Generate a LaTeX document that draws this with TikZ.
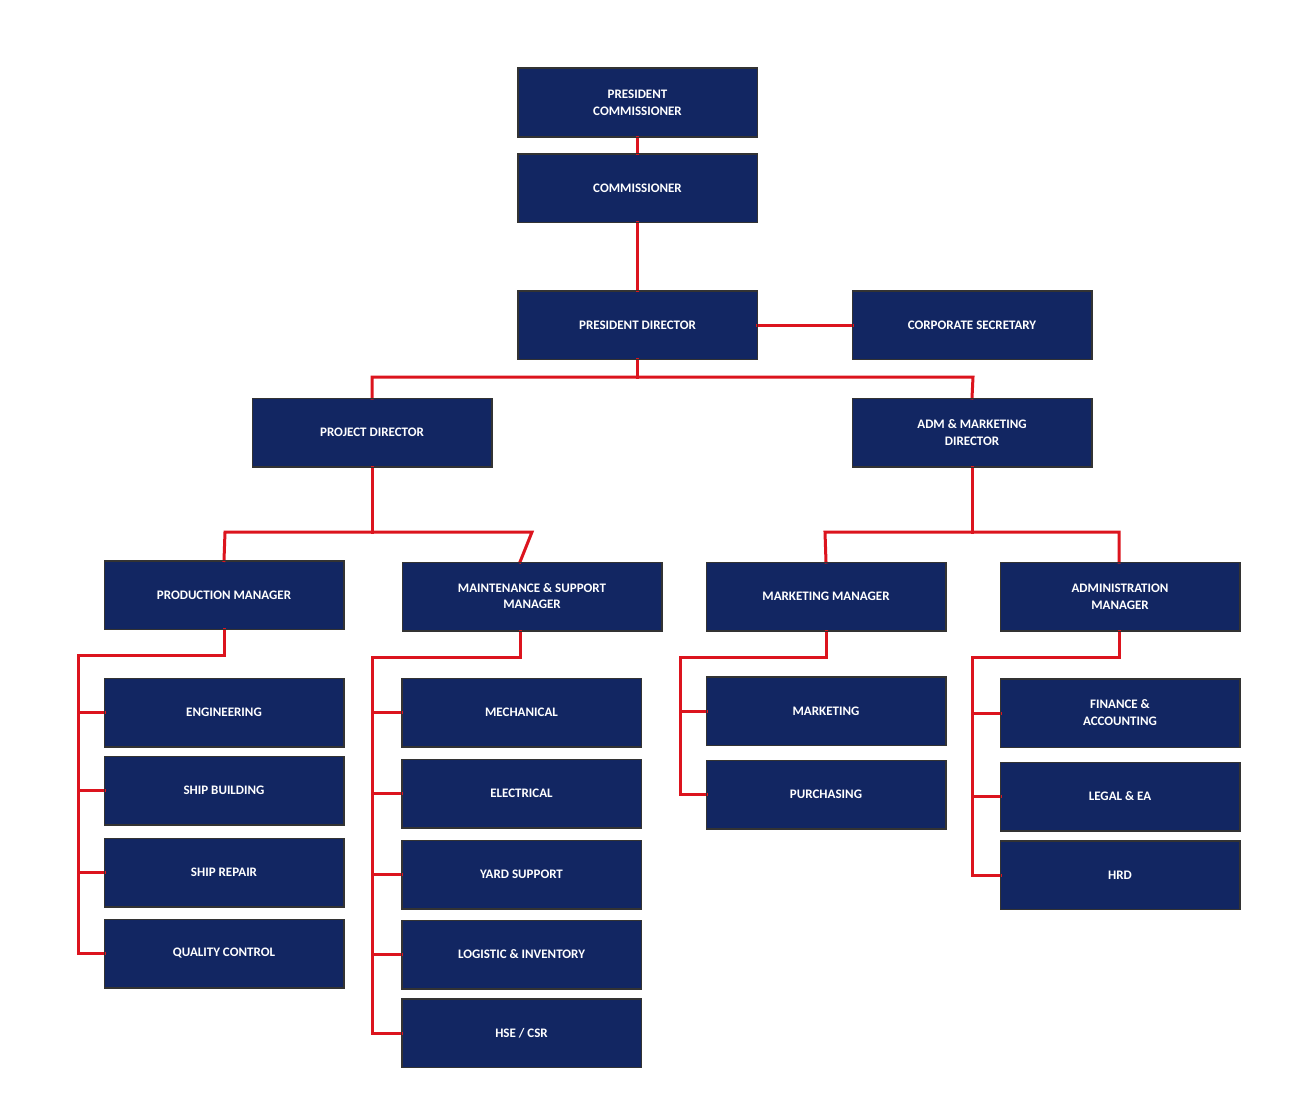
\documentclass[tikz,border=0pt]{standalone}
\usepackage{fontspec}
\setmainfont{Carlito}
\definecolor{navy}{RGB}{18,38,98}
\definecolor{lnred}{RGB}{220,20,30}
\begin{document}
\begin{tikzpicture}[x=1pt,y=-1pt,
  box/.style={draw=black!80,line width=1pt,fill=navy,text=white,font=\bfseries\fontsize{13}{17}\selectfont,align=center,minimum height=68pt,inner sep=2pt},
  w/.style={minimum width=239pt},
  ww/.style={minimum width=259pt},
  ln/.style={draw=lnred,line width=3pt,line cap=rect}]
\useasboundingbox (0,0) rectangle (1302,1116);
\fill[white] (0,0) rectangle (1302,1116);
% connectors first
\coordinate (bl) at (372,377); \coordinate (br) at (973,377);
\coordinate (pl) at (225,532); \coordinate (pr) at (520,532);
\coordinate (al) at (825,532); \coordinate (ar) at (1119,532);
\node[box,w] (pc) at (637.5,102.5) {PRESIDENT\\COMMISSIONER};
\node[box,w] (cm) at (637.5,188) {COMMISSIONER};
\node[box,w] (pd) at (637.5,325) {PRESIDENT DIRECTOR};
\node[box,w] (cs) at (972,325) {CORPORATE SECRETARY};
\node[box,w] (pj) at (372,432.5) {PROJECT DIRECTOR};
\node[box,w] (ad) at (972,432.5) {ADM \& MARKETING\\DIRECTOR};
\node[box,w] (prm) at (224,595) {PRODUCTION MANAGER};
\node[box,ww,font=\bfseries\fontsize{13}{16}\selectfont] (mm) at (532,596.5) {MAINTENANCE \& SUPPORT\\MANAGER};
\node[box,w] (mk) at (826,596.5) {MARKETING MANAGER};
\node[box,w] (am) at (1120,596.5) {ADMINISTRATION\\MANAGER};
\node[box,w] (e1) at (224,712.5) {ENGINEERING};
\node[box,w] (e2) at (224,790.5) {SHIP BUILDING};
\node[box,w] (e3) at (224,872.5) {SHIP REPAIR};
\node[box,w] (e4) at (224,953.5) {QUALITY CONTROL};
\node[box,w] (m1) at (521.5,712.5) {MECHANICAL};
\node[box,w] (m2) at (521.5,793.5) {ELECTRICAL};
\node[box,w] (m3) at (521.5,874.5) {YARD SUPPORT};
\node[box,w] (m4) at (521.5,954.5) {LOGISTIC \& INVENTORY};
\node[box,w] (m5) at (521.5,1033) {HSE / CSR};
\node[box,w] (k1) at (826,711) {MARKETING};
\node[box,w] (k2) at (826,794.5) {PURCHASING};
\node[box,w] (a1) at (1120,713) {FINANCE \&\\ACCOUNTING};
\node[box,w] (a2) at (1120,796.5) {LEGAL \& EA};
\node[box,w] (a3) at (1120,875) {HRD};
\begin{scope}[on background layer/.style={}]
\end{scope}
\begin{pgfinterruptboundingbox}\end{pgfinterruptboundingbox}
% lines
\draw[ln] (pc.south) -- (cm.north);
\draw[ln] (cm.south) -- (pd.north);
\draw[ln] (pd.east) -- (cs.west);
\draw[ln] (pd.south) -- (637.5,377);
\draw[ln] (pj.north) -- (bl) -- (br) -- (ad.north);
\draw[ln] (pj.south) -- (372,532);
\draw[ln] (prm.north) -- (pl) -- (pr) -- (mm.north |- pr) -- (520,562);
\draw[ln] (ad.south) -- (972,532);
\draw[ln] (mk.north) -- (al) -- (ar) -- (1119,562);
% production
\coordinate (p0) at (78,655);
\draw[ln] (prm.south) -- (224,655) -- (p0) -- (78,953.5) -- (e4.west);
\foreach \n in {e1,e2,e3} \draw[ln] (78,0 |- \n.west) -- (\n.west);
% maintenance
\draw[ln] (520,631) -- (520,657) -- (372,657) -- (372,1033) -- (m5.west);
\foreach \n in {m1,m2,m3,m4} \draw[ln] (372,0 |- \n.west) -- (\n.west);
% marketing
\draw[ln] (mk.south) -- (826,657) -- (680,657) -- (680,794.5) -- (k2.west);
\draw[ln] (680,711) -- (k1.west);
% administration
\draw[ln] (1119,631) -- (1119,657) -- (972,657) -- (972,875) -- (a3.west);
\foreach \n in {a1,a2} \draw[ln] (972,0 |- \n.west) -- (\n.west);
% redraw boxes over lines
\foreach \n in {pc,cm,pd,cs,pj,ad,prm,mm,mk,am,e1,e2,e3,e4,m1,m2,m3,m4,m5,k1,k2,a1,a2,a3}
  \draw[draw=black!80,line width=1pt] (\n.north west) rectangle (\n.south east);
\end{tikzpicture}
\end{document}
